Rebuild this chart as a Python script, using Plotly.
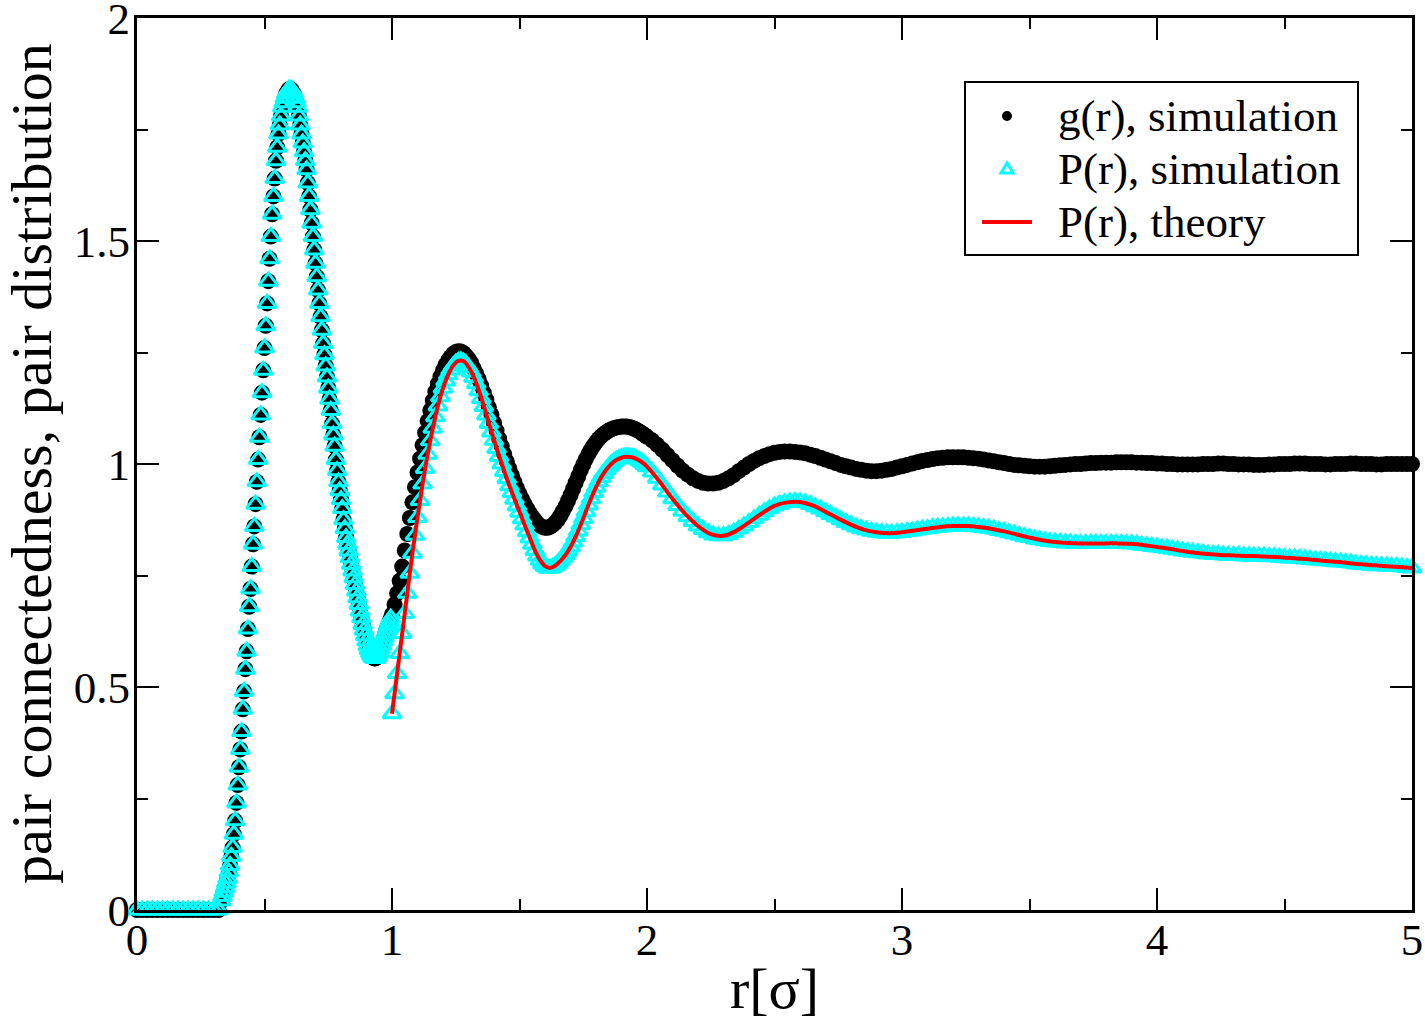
import numpy as np
import plotly.graph_objects as go

# ---------------- data ----------------
# r grids [sigma]
r_a = np.round(np.arange(0.0, 0.32 + 1e-9, 0.02), 3)      # flat foot
r_b = np.round(np.arange(0.33, 0.995 + 1e-9, 0.005), 3)   # first peak and dip
r_c = np.round(np.arange(1.00, 1.99 + 1e-9, 0.01), 3)
r_d = np.round(np.arange(2.00, 5.00 + 1e-9, 0.02), 3)
r_th = np.concatenate([np.round(np.arange(1.00, 2.00 + 1e-9, 0.02), 3),
                       np.round(np.arange(2.05, 5.00 + 1e-9, 0.05), 3)])

# g(r), simulation
g_a = [0.0] * 17
g_b = [0.02, 0.03, 0.04, 0.05, 0.06, 0.07, 0.085, 0.10, 0.12, 0.14,
       0.17, 0.20, 0.24, 0.28, 0.32, 0.36, 0.40, 0.45, 0.49, 0.54,
       0.58, 0.63, 0.68, 0.72, 0.77, 0.82, 0.86, 0.91, 0.96, 1.01,
       1.06, 1.11, 1.16, 1.21, 1.26, 1.31, 1.36, 1.41, 1.46, 1.51,
       1.56, 1.60, 1.64, 1.68, 1.71, 1.74, 1.76, 1.78, 1.80, 1.81,
       1.82, 1.83, 1.835, 1.84, 1.84, 1.84, 1.835, 1.83, 1.82, 1.81,
       1.80, 1.78, 1.76, 1.74, 1.72, 1.70, 1.68, 1.66, 1.63, 1.60,
       1.57, 1.54, 1.51, 1.48, 1.45, 1.42, 1.39, 1.36, 1.33, 1.30,
       1.27, 1.245, 1.22, 1.195, 1.17, 1.145, 1.12, 1.09, 1.065, 1.04,
       1.01, 0.985, 0.96, 0.94, 0.92, 0.90, 0.875, 0.855, 0.835, 0.82,
       0.805, 0.79, 0.775, 0.76, 0.745, 0.73, 0.715, 0.70, 0.685, 0.67,
       0.655, 0.64, 0.627, 0.615, 0.603, 0.592, 0.583, 0.576, 0.57, 0.566,
       0.564, 0.564, 0.566, 0.57, 0.577, 0.585, 0.594, 0.603, 0.612, 0.621,
       0.63, 0.638, 0.646, 0.654]
g_c = [0.663, 0.685, 0.71, 0.738, 0.77, 0.806, 0.843, 0.879, 0.914, 0.948,
       0.981, 1.012, 1.042, 1.07, 1.096, 1.12, 1.142, 1.162, 1.18, 1.196,
       1.21, 1.222, 1.232, 1.24, 1.247, 1.251, 1.253, 1.252, 1.249, 1.243,
       1.236, 1.227, 1.215, 1.203, 1.19, 1.175, 1.16, 1.144, 1.127, 1.11,
       1.092, 1.075, 1.057, 1.04, 1.022, 1.006, 0.99, 0.975, 0.96, 0.946,
       0.933, 0.921, 0.91, 0.9, 0.89, 0.882, 0.874, 0.867, 0.862, 0.859,
       0.857, 0.857, 0.859, 0.863, 0.868, 0.875, 0.884, 0.894, 0.905, 0.917,
       0.93, 0.944, 0.958, 0.972, 0.986, 0.999, 1.011, 1.022, 1.032, 1.041,
       1.049, 1.056, 1.062, 1.067, 1.071, 1.075, 1.078, 1.08, 1.082, 1.083,
       1.084, 1.084, 1.084, 1.083, 1.081, 1.079, 1.076, 1.073, 1.069, 1.065]
g_d = [1.061, 1.053, 1.043, 1.032, 1.02, 1.008, 0.996, 0.985, 0.976, 0.968,
       0.962, 0.958, 0.956, 0.956, 0.958, 0.962, 0.968, 0.975, 0.984, 0.992,
       1.0, 1.007, 1.013, 1.018, 1.022, 1.025, 1.027, 1.028, 1.028, 1.027,
       1.026, 1.024, 1.021, 1.018, 1.014, 1.01, 1.006, 1.002, 0.998, 0.995,
       0.992, 0.989, 0.987, 0.985, 0.984, 0.984, 0.985, 0.987, 0.989, 0.992,
       0.995, 0.998, 1.001, 1.004, 1.007, 1.009, 1.011, 1.013, 1.014, 1.015,
       1.015, 1.015, 1.015, 1.014, 1.013, 1.012, 1.01, 1.008, 1.006, 1.004,
       1.002, 1.0, 0.998, 0.997, 0.996, 0.995, 0.994, 0.994, 0.994, 0.995,
       0.996, 0.997, 0.998, 0.999, 1.0, 1.0, 1.001, 1.002, 1.002, 1.003,
       1.003, 1.003, 1.004, 1.004, 1.004, 1.004, 1.003, 1.003, 1.002, 1.002,
       1.001, 1.001, 1.0, 1.0, 0.999, 0.999, 0.999, 0.999, 0.999, 1.0,
       1.0, 1.0, 1.001, 1.001, 1.0, 1.0, 0.999, 0.999, 0.999, 0.998,
       0.998, 0.998, 0.999, 0.999, 1.0, 1.0, 1.0, 1.001, 1.001, 1.001,
       1.0, 1.0, 1.0, 0.999, 0.999, 1.0, 1.0, 1.0, 1.001, 1.001,
       1.0, 1.0, 1.0, 0.999, 0.999, 1.0, 1.0, 1.0, 1.0, 1.0,
       1.0]

# P(r), simulation (equal to g(r) below r = 1)
p_c = [0.44, 0.485, 0.53, 0.575, 0.62, 0.665, 0.71, 0.755, 0.80, 0.84,
       0.88, 0.918, 0.955, 0.99, 1.022, 1.052, 1.08, 1.106, 1.13, 1.151,
       1.17, 1.186, 1.2, 1.211, 1.22, 1.226, 1.23, 1.231, 1.229, 1.224,
       1.216, 1.206, 1.194, 1.18, 1.164, 1.147, 1.129, 1.11, 1.091, 1.072,
       1.053, 1.035, 1.017, 1.0, 0.983, 0.967, 0.951, 0.936, 0.921, 0.906,
       0.892, 0.877, 0.863, 0.848, 0.834, 0.82, 0.806, 0.794, 0.784, 0.776,
       0.77, 0.767, 0.766, 0.768, 0.772, 0.777, 0.783, 0.79, 0.797, 0.805,
       0.814, 0.825, 0.837, 0.85, 0.864, 0.878, 0.893, 0.908, 0.922, 0.936,
       0.948, 0.96, 0.97, 0.979, 0.987, 0.994, 1.0, 1.005, 1.009, 1.012,
       1.014, 1.015, 1.016, 1.016, 1.015, 1.013, 1.011, 1.008, 1.004, 0.999]
p_d = [0.994, 0.982, 0.968, 0.953, 0.937, 0.922, 0.907, 0.894, 0.882, 0.871,
       0.861, 0.853, 0.846, 0.841, 0.839, 0.839, 0.842, 0.847, 0.854, 0.861,
       0.869, 0.877, 0.885, 0.893, 0.9, 0.906, 0.91, 0.913, 0.915, 0.916,
       0.915, 0.913, 0.909, 0.904, 0.899, 0.893, 0.887, 0.881, 0.875, 0.869,
       0.864, 0.859, 0.855, 0.852, 0.849, 0.847, 0.846, 0.845, 0.845, 0.846,
       0.847, 0.849, 0.85, 0.852, 0.854, 0.855, 0.857, 0.858, 0.859, 0.86,
       0.861, 0.861, 0.861, 0.861, 0.86, 0.859, 0.857, 0.856, 0.854, 0.851,
       0.849, 0.846, 0.843, 0.84, 0.837, 0.835, 0.832, 0.83, 0.828, 0.826,
       0.825, 0.824, 0.823, 0.823, 0.822, 0.822, 0.822, 0.822, 0.822, 0.822,
       0.822, 0.822, 0.822, 0.822, 0.821, 0.821, 0.82, 0.818, 0.817, 0.815,
       0.814, 0.812, 0.811, 0.809, 0.807, 0.805, 0.804, 0.802, 0.801, 0.8,
       0.798, 0.797, 0.797, 0.796, 0.795, 0.795, 0.795, 0.794, 0.794, 0.793,
       0.793, 0.793, 0.792, 0.792, 0.791, 0.79, 0.789, 0.789, 0.788, 0.787,
       0.786, 0.785, 0.784, 0.783, 0.782, 0.781, 0.78, 0.779, 0.778, 0.776,
       0.775, 0.774, 0.773, 0.772, 0.772, 0.771, 0.77, 0.77, 0.769, 0.768,
       0.767]

# P(r), theory
p_theory = [0.44, 0.53, 0.62, 0.71, 0.80, 0.88, 0.955, 1.022, 1.08, 1.13,
            1.17, 1.20, 1.221, 1.231, 1.231, 1.218, 1.196, 1.166, 1.13, 1.092,
            1.054, 1.018, 0.984, 0.952, 0.922, 0.893, 0.864, 0.835, 0.807, 0.785,
            0.771, 0.767, 0.772, 0.782, 0.796, 0.814, 0.837, 0.864, 0.893, 0.922,
            0.948, 0.97, 0.987, 1.0, 1.009, 1.014, 1.016, 1.015, 1.011, 1.004,
            0.994,
            0.96, 0.922, 0.888, 0.861, 0.843, 0.839, 0.85, 0.869, 0.889, 0.906,
            0.914, 0.915, 0.907, 0.893, 0.878, 0.864, 0.853, 0.847, 0.845, 0.847,
            0.851, 0.855, 0.859, 0.861, 0.861, 0.859, 0.855, 0.849, 0.842, 0.835,
            0.829, 0.825, 0.823, 0.822, 0.822, 0.822, 0.822, 0.821, 0.818, 0.814,
            0.81, 0.805, 0.801, 0.798, 0.796, 0.795, 0.794, 0.793, 0.792, 0.79,
            0.788, 0.786, 0.783, 0.781, 0.778, 0.775, 0.773, 0.771, 0.769, 0.767]

legend_labels = ["g(r), simulation", "P(r), simulation", "P(r), theory"]
x_title = "r[σ]"
y_title = "pair connectedness, pair distribution"

assert len(g_a) == len(r_a) and len(g_b) == len(r_b)
assert len(g_c) == len(r_c) and len(g_d) == len(r_d)
assert len(p_c) == len(r_c) and len(p_d) == len(r_d)
assert len(p_theory) == len(r_th)

r_g = np.concatenate([r_a, r_b, r_c, r_d])
g_sim = g_a + g_b + g_c + g_d
r_p = np.concatenate([r_a, r_b, r_c, r_d])
p_sim = g_a + g_b + p_c + p_d

# ---------------- figure ----------------
FONT = "Liberation Serif, Times New Roman, serif"
W, H = 1425, 1021
ML, MR, MT, MB = 137, 13, 18, 111
PW, PH = W - ML - MR, H - MT - MB
CYAN, RED = "#00FFFF", "#FF0000"


def fx(px):   # pixel column -> paper x
    return (px - ML) / PW


def fy(py):   # pixel row -> paper y
    return (H - MB - py) / PH


fig = go.Figure()
fig.add_trace(go.Scatter(
    x=r_g, y=g_sim, mode="markers", name=legend_labels[0],
    marker=dict(symbol="circle", size=16, color="black"),
    cliponaxis=False, showlegend=False))
fig.add_trace(go.Scatter(
    x=r_p, y=p_sim, mode="markers", name=legend_labels[1],
    marker=dict(symbol="triangle-up-open", size=16, color=CYAN,
                line=dict(width=3, color=CYAN)),
    cliponaxis=False, showlegend=False))
fig.add_trace(go.Scatter(
    x=r_th, y=p_theory, mode="lines", name=legend_labels[2],
    line=dict(color=RED, width=4, shape="spline"), showlegend=False))

axis_common = dict(
    showline=True, linewidth=3, linecolor="black", mirror="allticks",
    ticks="inside", ticklen=22, tickwidth=2, tickcolor="black",
    showgrid=False, zeroline=False, automargin=False,
    ticklabeloverflow="allow",
    tickfont=dict(family=FONT, size=45, color="black"),
)

fig.update_xaxes(
    range=[0, 5], tick0=0, dtick=1, ticklabelstandoff=-12,
    minor=dict(dtick=0.5, ticks="inside", ticklen=11, tickwidth=2, tickcolor="black"),
    title=dict(text=x_title, font=dict(family=FONT, size=58, color="black"), standoff=4),
    **axis_common)
fig.update_yaxes(
    range=[0, 2], tick0=0, dtick=0.5, ticklabelstandoff=-5,
    minor=dict(dtick=0.25, ticks="inside", ticklen=11, tickwidth=2, tickcolor="black"),
    **axis_common)

# ---- legend box drawn by hand (to match the reference layout) ----
shapes = [
    dict(type="rect", xref="paper", yref="paper",
         x0=fx(965), x1=fx(1358), y0=fy(255), y1=fy(82),
         line=dict(color="black", width=2), fillcolor="white", layer="above"),
    dict(type="circle", xref="paper", yref="paper",
         xsizemode="pixel", ysizemode="pixel",
         xanchor=fx(1007), yanchor=fy(116), x0=-5, x1=5, y0=-5, y1=5,
         fillcolor="black", line=dict(width=0), layer="above"),
    dict(type="path", xref="paper", yref="paper",
         xsizemode="pixel", ysizemode="pixel",
         xanchor=fx(1007), yanchor=fy(169),
         path="M -6,-4 L 6,-4 L 0,6 Z",
         fillcolor="white", line=dict(color=CYAN, width=3), layer="above"),
    dict(type="line", xref="paper", yref="paper",
         x0=fx(982), x1=fx(1032), y0=fy(222), y1=fy(222),
         line=dict(color=RED, width=4), layer="above"),
]
annotations = [
    dict(text=lab, xref="paper", yref="paper", x=fx(1056), y=fy(py),
         xanchor="left", yanchor="middle", showarrow=False,
         font=dict(family=FONT, size=45, color="black"))
    for lab, py in zip(legend_labels, [116, 169, 222])
]
# y-axis title
annotations.append(dict(
    text=y_title, xref="paper", yref="paper", x=fx(31), y=0.5,
    xanchor="center", yanchor="middle", textangle=-90, showarrow=False,
    font=dict(family=FONT, size=58, color="black")))

fig.update_layout(
    width=W, height=H, autosize=False,
    margin=dict(l=ML, r=MR, t=MT, b=MB),
    paper_bgcolor="white", plot_bgcolor="white",
    font=dict(family=FONT, color="black"),
    showlegend=False,
    shapes=shapes, annotations=annotations,
)

fig.write_html("out.html")
